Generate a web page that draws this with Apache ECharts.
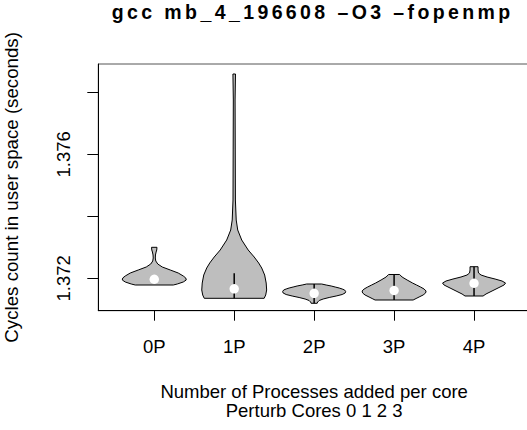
<!DOCTYPE html>
<html>
<head>
<meta charset="utf-8">
<script src="https://cdn.jsdelivr.net/npm/echarts@6/dist/echarts.min.js"></script>
<style>
html,body{margin:0;padding:0;background:#fff;}
#chart{width:527px;height:430px;}
</style>
</head>
<body>
<div id="chart"></div>
<script>
// ---- data ----
const titleText = 'gcc mb_4_196608 \u2013O3 \u2013fopenmp';
const xAxisTitle = 'Number of Processes added per core\nPerturb Cores 0 1 2 3';
const yAxisTitle = 'Cycles count in user space (seconds)';
const categories = ['0P', '1P', '2P', '3P', '4P'];
const yTickValues = [1.372, 1.374, 1.376, 1.378];
const yLabelValues = [1.372, 1.376];

// violin outlines: [value, half width of density (category units)]
const violin0P = [[1.373000,0.034],[1.372913,0.031],[1.372848,0.023],[1.372752,0.015],[1.372655,0.013],[1.372558,0.019],[1.372461,0.044],[1.372365,0.100],[1.372268,0.200],[1.372171,0.300],[1.372074,0.363],[1.372010,0.394],[1.371945,0.400],[1.371881,0.363],[1.371816,0.288],[1.371784,0.238]];
const violin1P = [[1.378590,0.016],[1.377752,0.011],[1.376139,0.013],[1.374526,0.015],[1.373881,0.025],[1.373558,0.044],[1.373235,0.094],[1.372913,0.175],[1.372687,0.250],[1.372494,0.306],[1.372332,0.344],[1.372106,0.381],[1.371848,0.400],[1.371623,0.406],[1.371461,0.394],[1.371355,0.375]];
const violin2P = [[1.371816,0.094],[1.371784,0.150],[1.371752,0.213],[1.371719,0.263],[1.371687,0.313],[1.371655,0.350],[1.371623,0.381],[1.371574,0.394],[1.371526,0.388],[1.371477,0.350],[1.371429,0.275],[1.371381,0.188],[1.371332,0.113],[1.371284,0.063],[1.371235,0.044],[1.371194,0.038]];
const violin3P = [[1.372123,0.069],[1.372042,0.100],[1.371945,0.163],[1.371848,0.231],[1.371784,0.281],[1.371719,0.331],[1.371655,0.375],[1.371590,0.400],[1.371526,0.394],[1.371461,0.363],[1.371397,0.313],[1.371348,0.275],[1.371300,0.238]];
const violin4P = [[1.372374,0.050],[1.372268,0.050],[1.372171,0.056],[1.372106,0.088],[1.372042,0.163],[1.371977,0.263],[1.371913,0.350],[1.371848,0.394],[1.371784,0.375],[1.371687,0.300],[1.371590,0.225],[1.371494,0.150],[1.371429,0.113]];
const violins = [violin0P, violin1P, violin2P, violin3P, violin4P];

const medians = [1.371968, 1.371661, 1.371516, 1.371606, 1.371839];
const whiskerLow = [1.371880, 1.371355, 1.371194, 1.371300, 1.371429];
const whiskerHigh = [1.372050, 1.372161, 1.371816, 1.372123, 1.372374];

// ---- chart ----
const dom = document.getElementById('chart');
const chart = echarts.init(dom, null, {renderer: 'svg'});
const FONT = 'Liberation Sans, Arial, sans-serif';

function renderViolin(params, api) {
  const i = params.dataIndex;
  const x = api.value(0);
  const outline = violins[i];
  const pts = [];
  for (let k = 0; k < outline.length; k++) pts.push(api.coord([x + outline[k][1], outline[k][0]]));
  for (let k = outline.length - 1; k >= 0; k--) pts.push(api.coord([x - outline[k][1], outline[k][0]]));
  const lo = api.coord([x, whiskerLow[i]]);
  const hi = api.coord([x, whiskerHigh[i]]);
  const med = api.coord([x, api.value(1)]);
  return {
    type: 'group',
    children: [
      {type: 'polygon', shape: {points: pts}, style: {fill: '#bebebe', stroke: '#000', lineWidth: 1}},
      {type: 'line', shape: {x1: lo[0], y1: lo[1], x2: hi[0], y2: hi[1]}, style: {stroke: '#000', lineWidth: 1.5}},
      {type: 'circle', shape: {cx: med[0], cy: med[1], r: 4.7}, style: {fill: '#fff', stroke: null}}
    ]
  };
}

const option = {
  animation: false,
  backgroundColor: '#fff',
  textStyle: {fontFamily: FONT, color: '#000'},
  grid: {left: 98.3, top: 64, right: -3, bottom: 119.3, show: true, borderColor: '#555', borderWidth: 1, backgroundColor: 'transparent', containLabel: false, outerBoundsMode: 'none'},
  graphic: [{
    type: 'text', x: 312.7, y: 12.2,
    style: {text: titleText, fill: '#000', font: 'bold 19.5px ' + FONT, textAlign: 'center', textVerticalAlign: 'middle', verticalAlign: 'middle'}
  }],
  xAxis: {
    type: 'value', min: 0.3, max: 5.7,
    name: xAxisTitle, nameLocation: 'middle', nameGap: 71.5, nameMoveOverlap: false,
    nameTextStyle: {fontSize: 18.5, color: '#000', fontFamily: FONT, lineHeight: 19},
    axisLine: {show: true, onZero: false, lineStyle: {color: '#000', width: 1}},
    axisTick: {show: true, length: 10, lineStyle: {color: '#000'}, customValues: [1, 2, 3, 4, 5]},
    axisLabel: {show: true, fontSize: 18.5, color: '#000', fontFamily: FONT, margin: 26, customValues: [1, 2, 3, 4, 5],
      formatter: function (v) { return categories[Math.round(v) - 1] || ''; }},
    splitLine: {show: false}
  },
  yAxis: {
    type: 'value', min: 1.370955, max: 1.378913,
    name: yAxisTitle, nameLocation: 'middle', nameGap: 77, nameRotate: 90, nameMoveOverlap: false,
    nameTextStyle: {fontSize: 18.7, color: '#000', fontFamily: FONT},
    axisLine: {show: true, onZero: false, lineStyle: {color: '#000', width: 1}},
    axisTick: {show: true, length: 11, lineStyle: {color: '#000'}, customValues: yTickValues},
    axisLabel: {show: true, rotate: 90, fontSize: 18.5, color: '#000', fontFamily: FONT, margin: 25, customValues: yLabelValues,
      formatter: function (v) { return v.toFixed(3); }},
    splitLine: {show: false}
  },
  series: [{
    type: 'custom',
    renderItem: renderViolin,
    clip: false,
    data: categories.map(function (c, i) { return [i + 1, medians[i]]; })
  }]
};
chart.setOption(option);

function spaceTitle() {
  const texts = dom.querySelectorAll('text');
  texts.forEach(function (t) {
    if (t.textContent === titleText) {
      t.setAttribute('letter-spacing', '3.4px');
      t.style.letterSpacing = '3.4px';
    }
  });
}
chart.on('finished', spaceTitle);
spaceTitle();
setTimeout(spaceTitle, 50);
setTimeout(spaceTitle, 300);
</script>
</body>
</html>
